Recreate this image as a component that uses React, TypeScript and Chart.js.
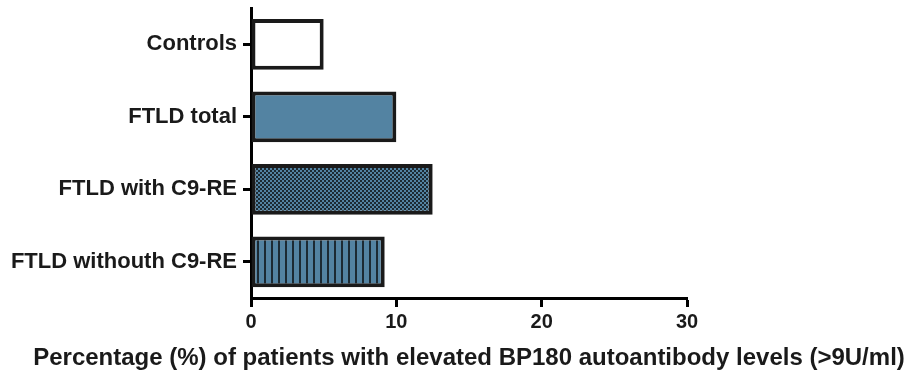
import React, { useEffect, useRef } from "react";
import { Chart, registerables } from "chart.js";

Chart.register(...registerables);

const categories = ["Controls", "FTLD total", "FTLD with C9-RE", "FTLD withouth C9-RE"];
const percentages = [5.0, 10.0, 12.5, 9.2];
const xTicks = [0, 10, 20, 30];
const xTitle = "Percentage (%) of patients with elevated BP180 autoantibody levels (>9U/ml)";

const BLUE = "#5383a2";
const DARK = "#1a1a1a";
const FONT = "Liberation Sans, Arial, sans-serif";

function checkerPattern(ctx: CanvasRenderingContext2D): CanvasPattern | string {
  const c = document.createElement("canvas");
  c.width = 4;
  c.height = 4;
  const g = c.getContext("2d");
  if (!g) return BLUE;
  g.fillStyle = BLUE;
  g.fillRect(0, 0, 4, 4);
  g.fillStyle = "#1c2a33";
  g.fillRect(0, 0, 2, 2);
  g.fillRect(2, 2, 2, 2);
  return ctx.createPattern(c, "repeat") || BLUE;
}

function stripePattern(ctx: CanvasRenderingContext2D): CanvasPattern | string {
  const c = document.createElement("canvas");
  c.width = 7;
  c.height = 4;
  const g = c.getContext("2d");
  if (!g) return BLUE;
  g.fillStyle = BLUE;
  g.fillRect(0, 0, 7, 4);
  g.fillStyle = "#1c2a33";
  g.fillRect(5, 0, 2, 4);
  return ctx.createPattern(c, "repeat") || BLUE;
}

// Axis title drawn across the full canvas width (wider than the plot area).
const wideTitle = {
  id: "wideTitle",
  afterDraw(chart: any) {
    const { ctx, chartArea } = chart;
    const x = (chartArea.left + chartArea.right) / 2;
    ctx.save();
    ctx.font = `bold 24px ${FONT}`;
    ctx.fillStyle = "#1a1a1a";
    ctx.textAlign = "center";
    ctx.textBaseline = "middle";
    ctx.fillText(xTitle, x, 358);
    ctx.restore();
  },
};

export default function App() {
  const ref = useRef<HTMLCanvasElement | null>(null);

  useEffect(() => {
    const canvas = ref.current;
    if (!canvas) return;
    const ctx = canvas.getContext("2d");
    if (!ctx) return;
    const fills = ["#ffffff", BLUE, checkerPattern(ctx), stripePattern(ctx)];

    const chart = new Chart(ctx, {
      type: "bar",
      data: {
        labels: categories,
        datasets: [
          {
            data: percentages,
            backgroundColor: fills as any,
            borderColor: DARK,
            borderWidth: 4,
            borderSkipped: false,
            barPercentage: 0.7,
            categoryPercentage: 1,
          },
        ],
      },
      plugins: [wideTitle],
      options: {
        indexAxis: "y",
        animation: false,
        responsive: false,
        maintainAspectRatio: false,
        layout: { padding: { top: 8, right: 223, left: 0, bottom: 0 } },
        plugins: { legend: { display: false }, tooltip: { enabled: false } },
        scales: {
          x: {
            min: 0,
            max: 30,
            afterBuildTicks: (axis: any) => {
              axis.ticks = xTicks.map((v) => ({ value: v }));
            },
            afterFit: (axis: any) => {
              axis.height = 77;
            },
            border: { display: true, color: "#000", width: 3 },
            grid: {
              display: true,
              drawOnChartArea: false,
              drawTicks: true,
              tickLength: 9,
              tickWidth: 3,
              tickColor: "#000",
            },
            ticks: {
              color: "#1a1a1a",
              padding: 3,
              font: { family: FONT, size: 20, weight: "bold" },
            },
          },
          y: {
            afterFit: (axis: any) => {
              axis.width = 251;
              axis.paddingTop = 0;
              axis.paddingBottom = 0;
            },
            border: { display: true, color: "#000", width: 3 },
            grid: {
              display: true,
              offset: false,
              drawOnChartArea: false,
              drawTicks: true,
              tickLength: 8,
              tickWidth: 3,
              tickColor: "#000",
            },
            ticks: {
              color: "#1a1a1a",
              padding: 6,
              font: { family: FONT, size: 22, weight: "bold" },
            },
          },
        },
      },
    });
    return () => chart.destroy();
  }, []);

  return (
    <div style={{ position: "fixed", left: 0, top: 0, width: 910, height: 375, background: "#fff" }}>
      <canvas ref={ref} width={910} height={375} />
    </div>
  );
}
